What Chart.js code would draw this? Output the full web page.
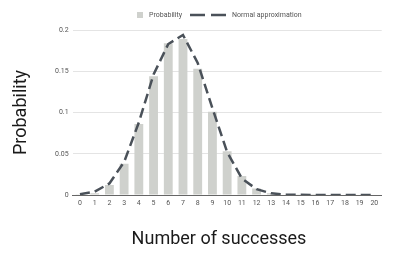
<!DOCTYPE html>
<html>
<head>
<meta charset="utf-8">
<script src="https://cdn.jsdelivr.net/npm/chart.js@4/dist/chart.umd.min.js"></script>
<style>
  html, body { margin: 0; padding: 0; background: #fff; }
  #wrap { width: 395px; height: 257px; }
</style>
</head>
<body>
<div id="wrap"><canvas id="chart" width="395" height="257"></canvas></div>
<script>
// number of successes (x axis categories)
const successes = ['0', '1', '2', '3', '4', '5', '6', '7', '8', '9', '10',
                   '11', '12', '13', '14', '15', '16', '17', '18', '19', '20'];
// bar heights
const probability = [0.0003, 0.002, 0.012, 0.038, 0.086, 0.144, 0.184, 0.189, 0.153, 0.101, 0.053,
                     0.023, 0.008, 0.002, 0.0005, 0.0002, 0.0001, 0, 0, 0, 0];
// dashed curve
const normalApprox = [0.001, 0.004, 0.014, 0.04, 0.088, 0.146, 0.183, 0.194, 0.16, 0.105, 0.052,
                      0.02, 0.007, 0.002, 0.0005, 0.0002, 0.0001, 0, 0, 0, 0];
const yTicks = [0, 0.05, 0.1, 0.15, 0.2];

const BAR_COLOR = '#cfd1cd';
const LINE_COLOR = '#4a5159';
const FONT = 'Roboto, "Liberation Sans", Arial, sans-serif';

// legend + x title drawn by hand (legend needs a small box and a long dashed sample)
const extras = {
    id: 'extras',
    afterDraw(chart) {
        const ctx = chart.ctx;
        ctx.save();
        ctx.font = '7px ' + FONT;
        ctx.textBaseline = 'middle';
        ctx.fillStyle = '#555';
        const y = 15;
        let x = 137;
        ctx.fillStyle = BAR_COLOR;
        ctx.fillRect(x, y - 3, 6, 6);
        ctx.fillStyle = '#555';
        ctx.fillText('Probability', 149, y);
        ctx.strokeStyle = LINE_COLOR;
        ctx.lineWidth = 2.5;
        ctx.setLineDash([15, 6]);
        ctx.beginPath();
        ctx.moveTo(190, y);
        ctx.lineTo(227, y);
        ctx.stroke();
        ctx.setLineDash([]);
        ctx.fillText('Normal approximation', 232, y);

        ctx.font = '18px ' + FONT;
        ctx.fillStyle = '#1a1a1a';
        ctx.textAlign = 'center';
        ctx.fillText('Number of successes', 219, 239);
        ctx.restore();
    }
};

const ctx = document.getElementById('chart').getContext('2d');
new Chart(ctx, {
    type: 'bar',
    data: {
        labels: successes,
        datasets: [{
            type: 'line',
            label: 'Normal approximation',
            data: normalApprox,
            borderColor: LINE_COLOR,
            borderWidth: 2.5,
            borderDash: [10, 5],
            pointRadius: 0,
            tension: 0,
            fill: false,
            order: 0
        }, {
            type: 'bar',
            label: 'Probability',
            data: probability,
            backgroundColor: BAR_COLOR,
            barPercentage: 0.6,
            categoryPercentage: 1,
            order: 1
        }]
    },
    options: {
        responsive: false,
        animation: false,
        layout: { padding: { top: 30, right: 13.3, left: 0, bottom: 0 } },
        plugins: {
            legend: { display: false },
            tooltip: { enabled: false }
        },
        scales: {
            x: {
                grid: { display: false, drawTicks: false },
                border: { display: true, color: '#666', width: 1 },
                ticks: { color: '#555', font: { size: 7, family: FONT }, padding: 4, maxRotation: 0, autoSkip: false },
                afterFit: s => { s.height = 62; }
            },
            y: {
                min: 0,
                max: 0.2,
                afterBuildTicks: s => { s.ticks = yTicks.map(v => ({ value: v })); },
                grid: { color: '#e4e4e4', drawTicks: false },
                border: { display: false },
                ticks: {
                    color: '#555', font: { size: 7, family: FONT }, padding: 4,
                    callback: v => String(v)
                },
                title: {
                    display: true,
                    text: 'Probability',
                    color: '#1a1a1a',
                    font: { size: 18, family: FONT },
                    padding: { top: 11, bottom: 0 }
                },
                afterFit: s => { s.width = 72.6; }
            }
        }
    },
    plugins: [extras]
});
</script>
</body>
</html>
